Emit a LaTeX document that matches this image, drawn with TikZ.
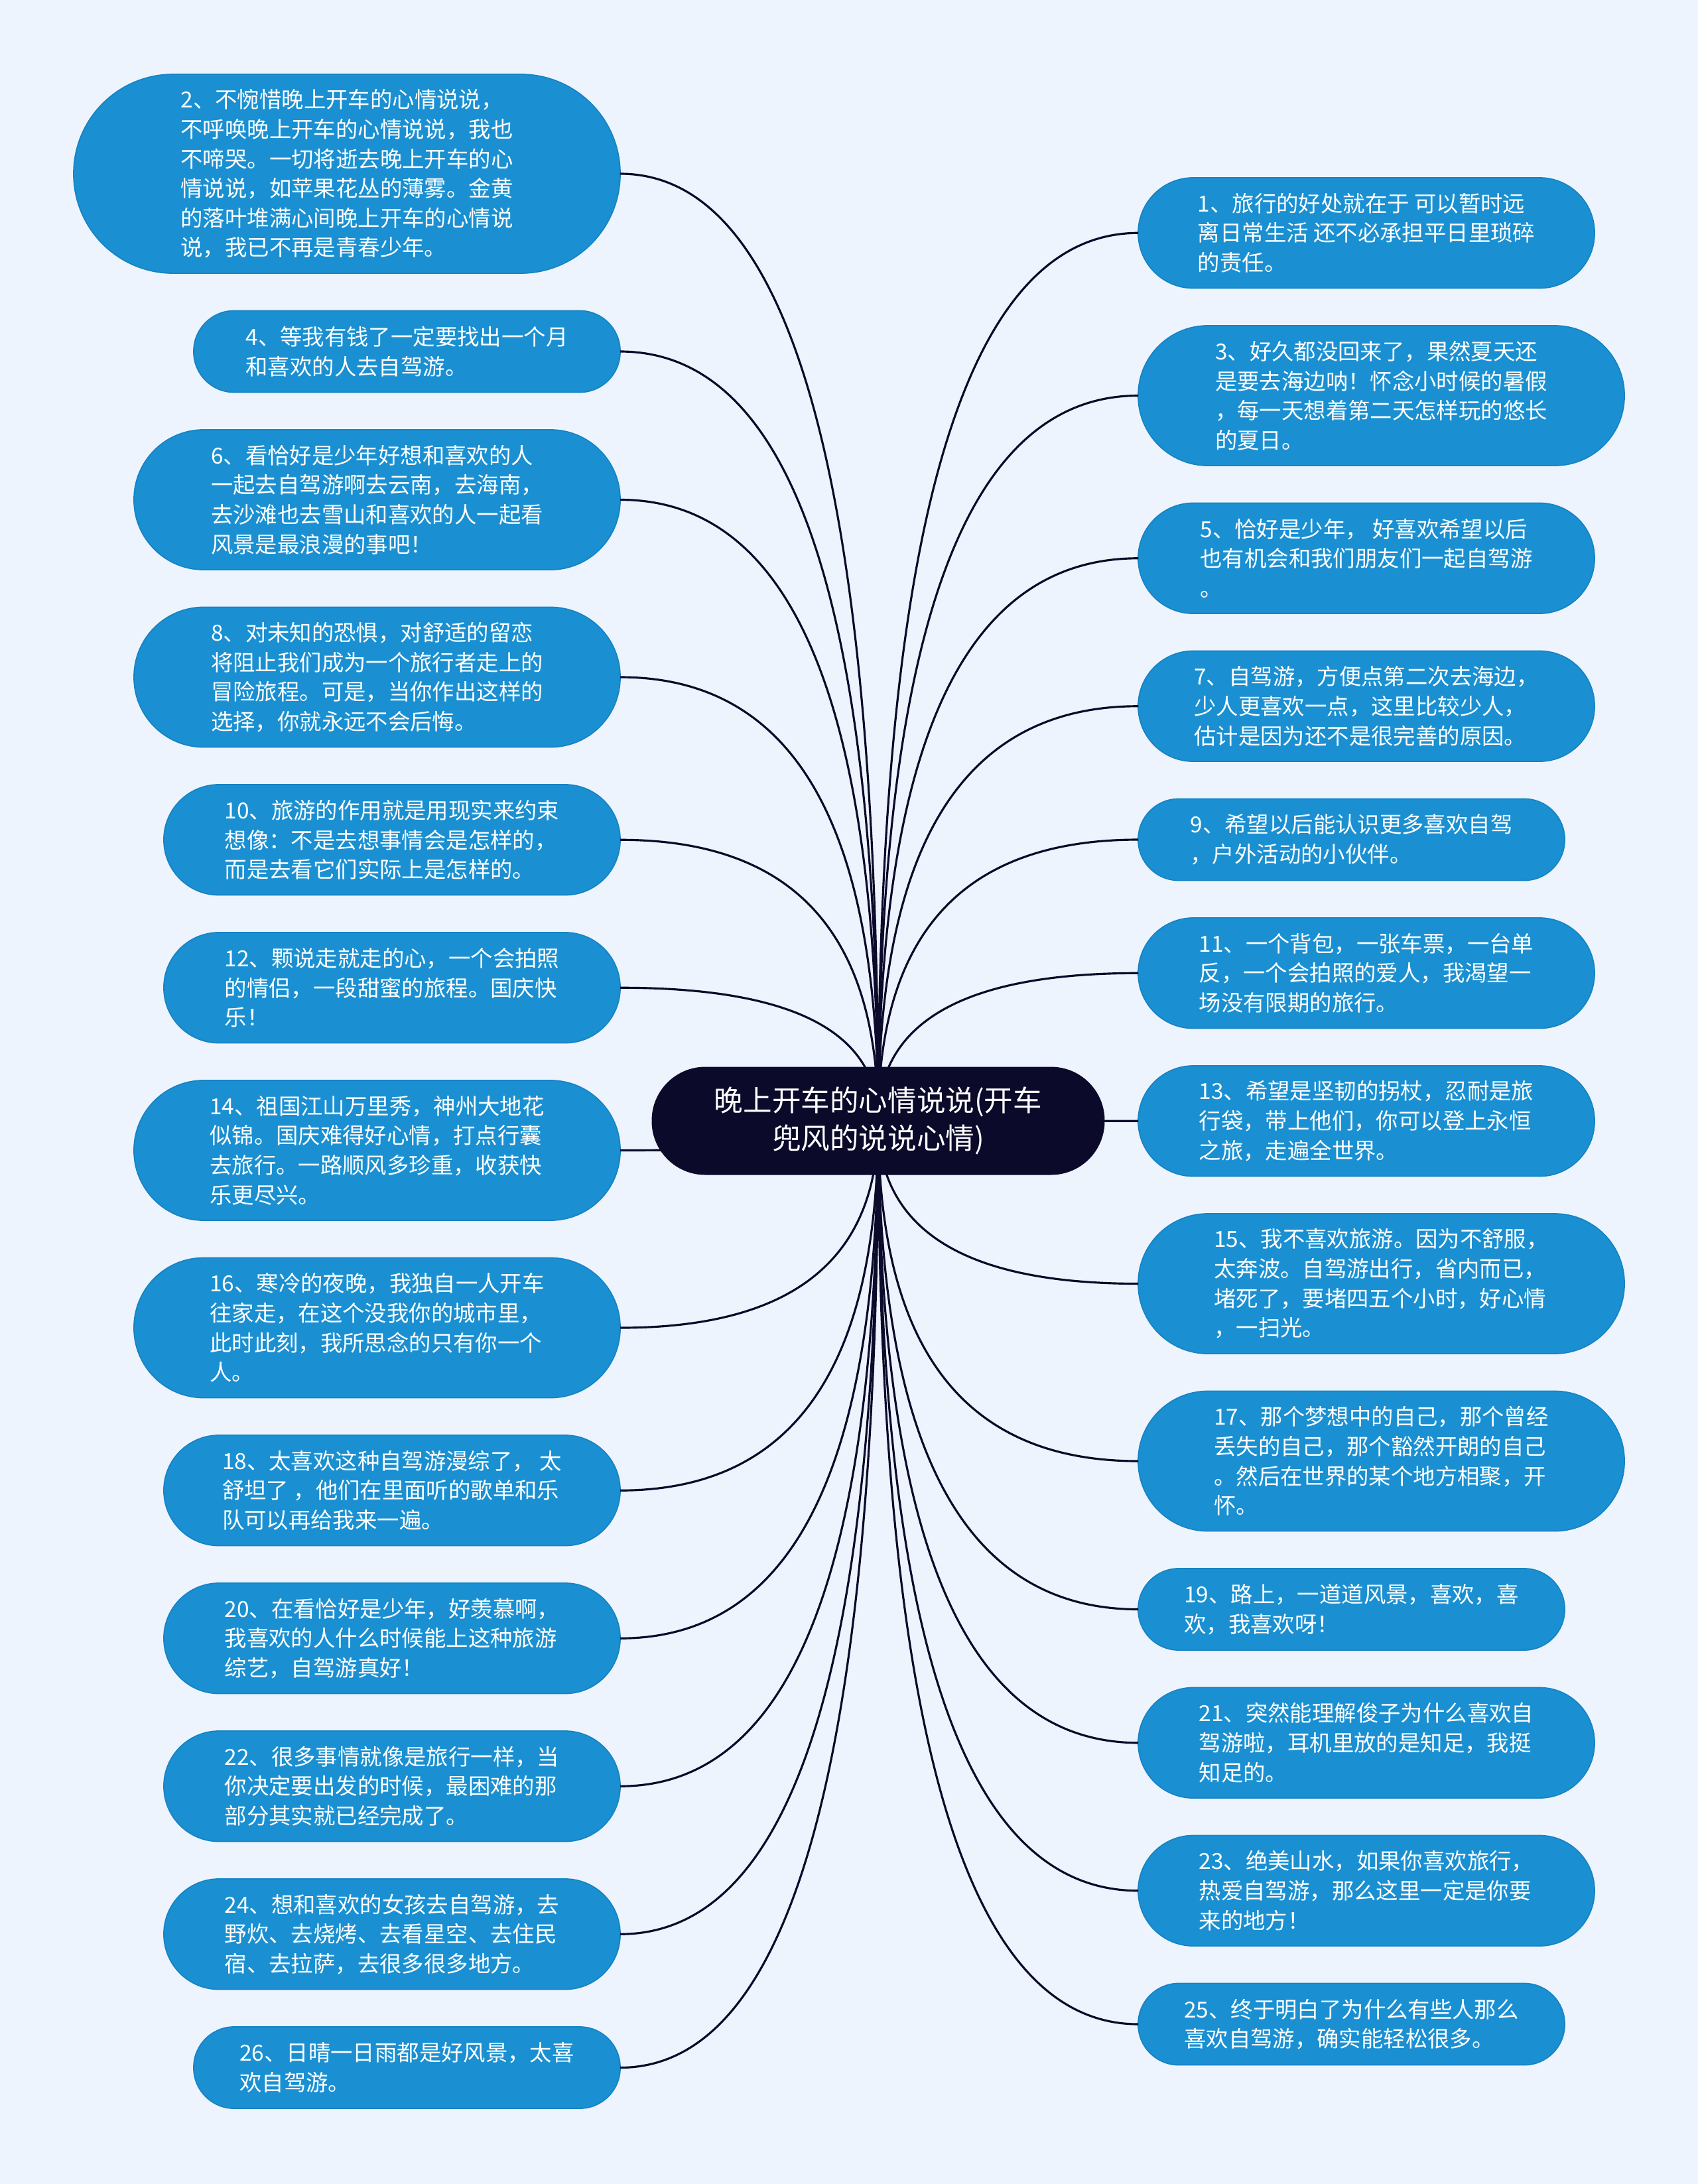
\documentclass[tikz,border=0pt]{standalone}
\usepackage{fontspec}
\setmainfont{Noto Sans CJK SC}
\usetikzlibrary{positioning, calc}

\definecolor{pagebg}{HTML}{EEF4FD}
\definecolor{subblue}{HTML}{1A90D2}
\definecolor{subedge}{HTML}{1683C4}
\definecolor{rootfill}{HTML}{0B0A2A}
\definecolor{linkcol}{HTML}{0B0A2A}
\newcommand{\subfont}{\fontsize{9.5pt}{12.7pt}\selectfont}
\newcommand{\rootfont}{\fontsize{12.4pt}{16.2pt}\selectfont}

\begin{document}
\begin{tikzpicture}[
    sub/.style={rectangle, draw=subedge, line width=0.5pt, fill=subblue,
                text=white, align=left, font=\subfont, inner sep=0pt,
                outer sep=0pt},
    rows2/.style={minimum height=1.23cm, rounded corners=0.61cm},
    rows3/.style={minimum height=1.665cm, rounded corners=0.83cm},
    rows4/.style={minimum height=2.11cm, rounded corners=1.05cm},
    rows6/.style={minimum height=3.0cm, rounded corners=1.5cm},
    slim/.style={minimum width=6.43cm},
    norm/.style={minimum width=6.88cm},
    broad/.style={minimum width=7.33cm},
    huge/.style={minimum width=8.24cm},
    root/.style={rectangle, fill=rootfill, text=white, align=center,
                 font=\rootfont, minimum width=6.83cm, minimum height=1.63cm,
                 rounded corners=0.81cm, inner sep=0pt},
    link/.style={draw=linkcol, line width=0.9pt},
    node distance=0.565cm,
  ]
  \fill[pagebg] (0,0) rectangle (25.6,-32.93);
  \useasboundingbox (0,0) rectangle (25.6,-32.93);

  % left column
  \node[sub, rows6, huge, anchor=north east] (L2) at (9.35,-1.12)
    {2、不惋惜晚上开车的心情说说，\\不呼唤晚上开车的心情说说，我也\\不啼哭。一切将逝去晚上开车的心\\情说说，如苹果花丛的薄雾。金黄\\的落叶堆满心间晚上开车的心情说\\说，我已不再是青春少年。};
  \node[sub, rows2, slim, below=of L2.south east, anchor=north east] (L4)
    {4、等我有钱了一定要找出一个月\\和喜欢的人去自驾游。};
  \node[sub, rows4, broad, below=of L4.south east, anchor=north east] (L6)
    {6、看恰好是少年好想和喜欢的人\\一起去自驾游啊去云南，去海南，\\去沙滩也去雪山和喜欢的人一起看\\风景是最浪漫的事吧！};
  \node[sub, rows4, broad, below=of L6.south east, anchor=north east] (L8)
    {8、对未知的恐惧，对舒适的留恋\\将阻止我们成为一个旅行者走上的\\冒险旅程。可是，当你作出这样的\\选择，你就永远不会后悔。};
  \node[sub, rows3, norm, below=of L8.south east, anchor=north east] (L10)
    {10、旅游的作用就是用现实来约束\\想像：不是去想事情会是怎样的，\\而是去看它们实际上是怎样的。};
  \node[sub, rows3, norm, below=of L10.south east, anchor=north east] (L12)
    {12、颗说走就走的心，一个会拍照\\的情侣，一段甜蜜的旅程。国庆快\\乐！};
  \node[sub, rows4, broad, below=of L12.south east, anchor=north east] (L14)
    {14、祖国江山万里秀，神州大地花\\似锦。国庆难得好心情，打点行囊\\去旅行。一路顺风多珍重，收获快\\乐更尽兴。};
  \node[sub, rows4, broad, below=of L14.south east, anchor=north east] (L16)
    {16、寒冷的夜晚，我独自一人开车\\往家走，在这个没我你的城市里，\\此时此刻，我所思念的只有你一个\\人。};
  \node[sub, rows3, norm, below=of L16.south east, anchor=north east] (L18)
    {18、太喜欢这种自驾游漫综了， 太\\舒坦了 ，他们在里面听的歌单和乐\\队可以再给我来一遍。};
  \node[sub, rows3, norm, below=of L18.south east, anchor=north east] (L20)
    {20、在看恰好是少年，好羡慕啊，\\我喜欢的人什么时候能上这种旅游\\综艺，自驾游真好！};
  \node[sub, rows3, norm, below=of L20.south east, anchor=north east] (L22)
    {22、很多事情就像是旅行一样，当\\你决定要出发的时候，最困难的那\\部分其实就已经完成了。};
  \node[sub, rows3, norm, below=of L22.south east, anchor=north east] (L24)
    {24、想和喜欢的女孩去自驾游，去\\野炊、去烧烤、去看星空、去住民\\宿、去拉萨，去很多很多地方。};
  \node[sub, rows2, slim, below=of L24.south east, anchor=north east] (L26)
    {26、日晴一日雨都是好风景，太喜\\欢自驾游。};

  % right column
  \node[sub, rows3, norm, anchor=north west] (R1) at (17.16,-2.68)
    {1、旅行的好处就在于 可以暂时远\\离日常生活 还不必承担平日里琐碎\\的责任。};
  \node[sub, rows4, broad, below=of R1.south west, anchor=north west] (R3)
    {3、好久都没回来了，果然夏天还\\是要去海边呐！怀念小时候的暑假\\，每一天想着第二天怎样玩的悠长\\的夏日。};
  \node[sub, rows3, norm, below=of R3.south west, anchor=north west] (R5)
    {5、恰好是少年， 好喜欢希望以后\\也有机会和我们朋友们一起自驾游\\。};
  \node[sub, rows3, norm, below=of R5.south west, anchor=north west] (R7)
    {7、自驾游，方便点第二次去海边，\\少人更喜欢一点，这里比较少人，\\估计是因为还不是很完善的原因。};
  \node[sub, rows2, slim, below=of R7.south west, anchor=north west] (R9)
    {9、希望以后能认识更多喜欢自驾\\，户外活动的小伙伴。};
  \node[sub, rows3, norm, below=of R9.south west, anchor=north west] (R11)
    {11、一个背包，一张车票，一台单\\反，一个会拍照的爱人，我渴望一\\场没有限期的旅行。};
  \node[sub, rows3, norm, below=of R11.south west, anchor=north west] (R13)
    {13、希望是坚韧的拐杖，忍耐是旅\\行袋，带上他们，你可以登上永恒\\之旅，走遍全世界。};
  \node[sub, rows4, broad, below=of R13.south west, anchor=north west] (R15)
    {15、我不喜欢旅游。因为不舒服，\\太奔波。自驾游出行，省内而已，\\堵死了，要堵四五个小时，好心情\\，一扫光。};
  \node[sub, rows4, broad, below=of R15.south west, anchor=north west] (R17)
    {17、那个梦想中的自己，那个曾经\\丢失的自己，那个豁然开朗的自己\\。然后在世界的某个地方相聚，开\\怀。};
  \node[sub, rows2, slim, below=of R17.south west, anchor=north west] (R19)
    {19、路上，一道道风景，喜欢，喜\\欢，我喜欢呀！};
  \node[sub, rows3, norm, below=of R19.south west, anchor=north west] (R21)
    {21、突然能理解俊子为什么喜欢自\\驾游啦，耳机里放的是知足，我挺\\知足的。};
  \node[sub, rows3, norm, below=of R21.south west, anchor=north west] (R23)
    {23、绝美山水，如果你喜欢旅行，\\热爱自驾游，那么这里一定是你要\\来的地方！};
  \node[sub, rows2, slim, below=of R23.south west, anchor=north west] (R25)
    {25、终于明白了为什么有些人那么\\喜欢自驾游，确实能轻松很多。};

  % curves from the hub, the root node covers their start
  \coordinate (hub) at (13.24,-16.90);
  \foreach \n in {L2,L4,L6,L8,L10,L12,L14,L16,L18,L20,L22,L24,L26}
    \draw[link] (hub) .. controls ($(hub)!.67!(hub|-\n.east)$)
      and ($(\n.east)!.67!(hub|-\n.east)$) .. (\n.east);
  \foreach \n in {R1,R3,R5,R7,R9,R11,R13,R15,R17,R19,R21,R23,R25}
    \draw[link] (hub) .. controls ($(hub)!.67!(hub|-\n.west)$)
      and ($(\n.west)!.67!(hub|-\n.west)$) .. (\n.west);

  \node[root] (root) at (hub) {晚上开车的心情说说(开车\\兜风的说说心情)};
\end{tikzpicture}
\end{document}
